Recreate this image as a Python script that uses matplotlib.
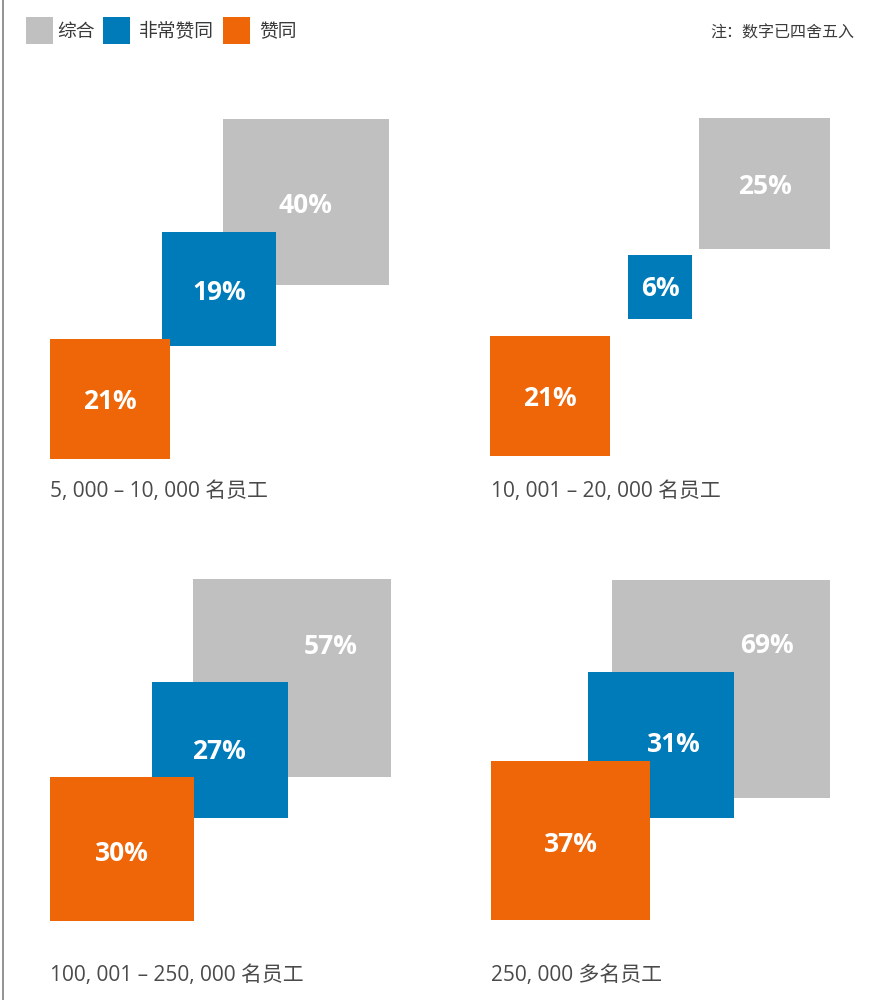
"""Nested-square chart: agreement share by company size (area ~ percentage)."""

import matplotlib

matplotlib.use("Agg")
import matplotlib.pyplot as plt
from matplotlib.patches import Rectangle

plt.rcParams["font.family"] = ["Open Sans", "Noto Sans CJK SC", "DejaVu Sans"]

# ---- data -------------------------------------------------------------
categories = ["综合", "非常赞同", "赞同"]
group_labels = [
    "5, 000 – 10, 000 名员工",
    "10, 001 – 20, 000 名员工",
    "100, 001 – 250, 000 名员工",
    "250, 000 多名员工",
]
overall = [40, 25, 57, 69]
strongly_agree = [19, 6, 27, 31]
agree = [21, 21, 30, 37]
note = "注：数字已四舍五入"

# ---- style / layout ---------------------------------------------------
COLORS = ["#c0c0c0", "#007bba", "#ee6608"]
TEXT = "#3a3a3a"
SCALE = 26.2  # px of square side per sqrt(percent)

# bottom-left corner of each square (gray, blue, orange) per panel, in px
ANCHORS = [
    [(223, 285), (162, 346), (50, 459)],
    [(699, 249), (628, 319), (490, 456)],
    [(193, 777), (152, 818), (50, 921)],
    [(612, 798), (588, 818), (491, 920)],
]
# label shift from the square centre where the square is partly covered
LABEL_SHIFT = [
    [(0, 3), (0, 4), (0, 3)],
    [(0, 3), (0, 2), (0, 3)],
    [(39, -32), (-1, 2), (0, 4)],
    [(46, -44), (13, -1), (0, 4)],
]
GROUP_LABEL_POS = [(50, 491), (491, 491), (50, 976), (491, 976)]


def draw_panel(ax, values, anchors, shifts, label, label_pos):
    for i, (val, (x0, y0), (dx, dy)) in enumerate(zip(values, anchors, shifts)):
        side = SCALE * val ** 0.5
        ax.add_patch(
            Rectangle((x0, y0 - side), side, side, color=COLORS[i], lw=0, zorder=2 + i)
        )
        ax.text(
            x0 + side / 2 + dx,
            y0 - side / 2 + dy,
            f"{val}%",
            color="white",
            fontsize=19,
            fontweight="bold",
            ha="center",
            va="center",
            zorder=10,
        )
    ax.text(
        label_pos[0], label_pos[1], label,
        fontsize=15, color="#4a4a4a", ha="left", va="center",
    )


fig = plt.figure(figsize=(8.74, 10), dpi=100)
ax = fig.add_axes([0, 0, 1, 1])
ax.set_xlim(0, 874)
ax.set_ylim(1000, 0)
ax.axis("off")

# left border line
ax.plot([2.5, 2.5], [0, 1000], color="#8a8a8a", lw=1.3)

# legend
legend_x = [(26, 57), (103, 139), (223, 259)]
for (sq_x, tx_x), cat, color in zip(legend_x, categories, COLORS):
    ax.add_patch(Rectangle((sq_x, 17), 26.5, 26.5, color=color, lw=0))
    ax.text(tx_x, 32.5, cat, fontsize=13.5, color=TEXT, ha="left", va="center")

ax.text(854, 34, note, fontsize=11.5, color=TEXT, ha="right", va="center")

values = list(zip(overall, strongly_agree, agree))
for vals, anchors, shifts, label, pos in zip(
    values, ANCHORS, LABEL_SHIFT, group_labels, GROUP_LABEL_POS
):
    draw_panel(ax, vals, anchors, shifts, label, pos)

fig.savefig("out.png", dpi=100)
plt.close(fig)
